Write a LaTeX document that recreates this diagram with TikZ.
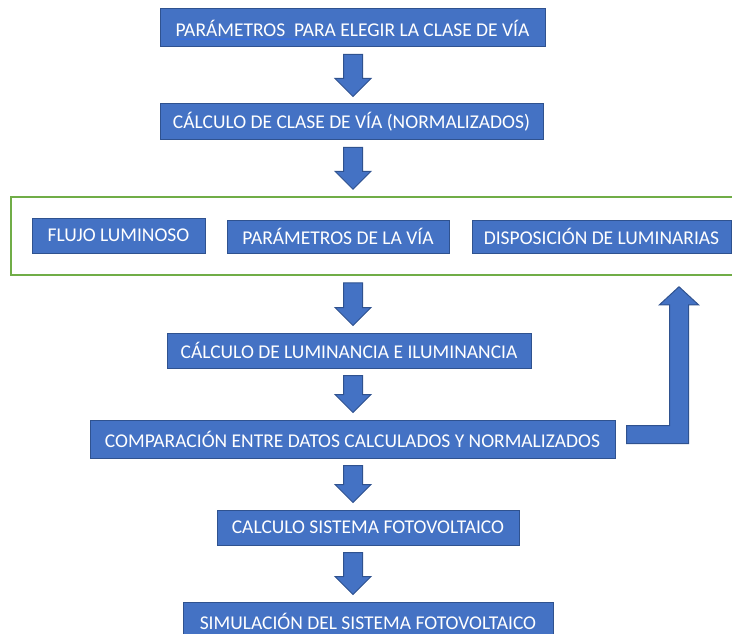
\documentclass[tikz,border=0pt]{standalone}
\usepackage{fontspec}
\setmainfont{Carlito}
\usetikzlibrary{calc}
\definecolor{boxblue}{HTML}{4472C4}
\definecolor{boxedge}{HTML}{2F528F}
\definecolor{grn}{HTML}{70AD47}
\definecolor{squig}{HTML}{3A6FD8}
\newcommand\blockdown[2]{%
  \draw[barrow] let \p1=(axis |- #1.south), \p2=(axis |- #2.north) in
    (\x1-9.5pt,\y1-7pt) -- (\x1+9.5pt,\y1-7pt) -- (\x1+9.5pt,\y2+25pt) --
    (\x1+18pt,\y2+25pt) -- (\x1,\y2+7pt) -- (\x1-18pt,\y2+25pt) --
    (\x1-9.5pt,\y2+25pt) -- cycle;}
\begin{document}
\begin{tikzpicture}[x=1pt,y=-1pt,
  box/.style={rectangle, draw=boxedge, line width=1pt, fill=boxblue, text=white,
    font=\fontsize{19.5}{22}\selectfont, inner sep=0pt},
  barrow/.style={draw=boxedge, line width=1pt, fill=boxblue, line join=miter},
  frame/.style={rectangle, draw=grn, line width=1.5pt, inner sep=0pt}]
\useasboundingbox (0,0) rectangle (732,634);
\coordinate (axis) at (353,0);

\node[box, minimum width=385pt, minimum height=38pt] (b1) at (352.5,28)
  {PARÁMETROS\ \ PARA ELEGIR LA CLASE DE VÍA};
\draw[squig, line width=1.5pt] (176,39) -- (337,39);
\node[box, minimum width=383pt, minimum height=36pt] (b2) at (351.5,122)
  {CÁLCULO DE CLASE DE VÍA (NORMALIZADOS)};

\node[frame, minimum width=729pt, minimum height=78pt] (grp) at (375.5,236) {};
\node[box, minimum width=173pt, minimum height=35pt] (f1) at (118.5,235.5) {FLUJO LUMINOSO};
\node[box, minimum width=222pt, minimum height=33pt] (f2) at (338,236.5) {PARÁMETROS DE LA VÍA};
\node[box, minimum width=259pt, minimum height=33pt] (f3) at (601.5,236.5) {DISPOSICIÓN DE LUMINARIAS};

\node[box, minimum width=364pt, minimum height=35pt] (b3) at (349,350.5)
  {CÁLCULO DE LUMINANCIA E ILUMINANCIA};
\node[box, minimum width=525pt, minimum height=38pt] (b4) at (352.5,439)
  {COMPARACIÓN ENTRE DATOS CALCULADOS Y NORMALIZADOS};
\node[box, minimum width=302pt, minimum height=35pt] (b5) at (368,527.5)
  {CALCULO SISTEMA FOTOVOLTAICO};
\node[box, minimum width=370pt, minimum height=38pt] (b6) at (368,621)
  {SIMULACIÓN DEL SISTEMA FOTOVOLTAICO};

\blockdown{b1}{b2}
\blockdown{b2}{grp}
\blockdown{grp}{b3}
\blockdown{b3}{b4}
\blockdown{b4}{b5}
\blockdown{b5}{b6}

\draw[barrow] let \p1=(b4.north east), \p2=(grp.south) in
  (\x1+11pt,\y1-6pt) -- (\x1+54pt,\y1-6pt) -- (\x1+54pt,\y2-29pt) --
  (\x1+44pt,\y2-29pt) -- (\x1+63.5pt,\y2-11pt) -- (\x1+83pt,\y2-29pt) --
  (\x1+73pt,\y2-29pt) -- (\x1+73pt,\y1-24pt) -- (\x1+11pt,\y1-24pt) -- cycle;
\end{tikzpicture}
\end{document}
